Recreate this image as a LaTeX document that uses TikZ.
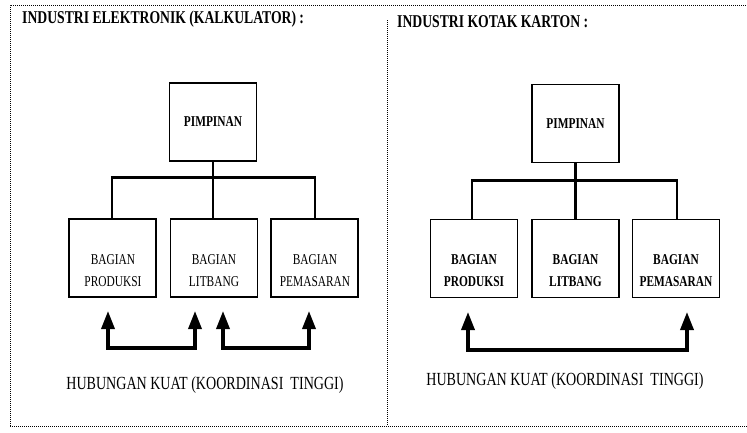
\documentclass[tikz,border=0pt]{standalone}
\usepackage{fontspec}
\setmainfont{Liberation Serif}
\newfontfamily\condfont[FakeStretch=0.76]{Liberation Serif}
\usetikzlibrary{arrows.meta}
\tikzset{
  frame/.style={line width=1pt, dash pattern=on 1pt off 1pt},
  box/.style={draw, line width=1.4pt, minimum width=87pt, minimum height=78pt, inner sep=0pt},
  boxb/.style={box, line width=1.9pt},
  topbox/.style={box, font=\condfont\bfseries\fontsize{15}{16}\selectfont},
  lbl/.style={inner sep=0pt, align=center, font=\condfont\fontsize{15}{22}\selectfont},
  lblb/.style={inner sep=0pt, align=center, font=\condfont\bfseries\fontsize{15}{22}\selectfont},
  tree/.style={line width=2.5pt},
  bar/.style={line width=3pt},
  link/.style={line width=3.5pt, -{Triangle[width=13pt,length=18pt]}},
  title/.style={anchor=west, inner sep=0pt, font=\condfont\bfseries\fontsize{18}{20}\selectfont},
  caption/.style={inner sep=0pt, font=\condfont\fontsize{18.5}{20}\selectfont}
}
\begin{document}
\begin{tikzpicture}[x=1pt, y=-1pt]
\useasboundingbox (0,0) rectangle (747,432);
% frame
\draw[frame] (10,426) -- (10,5) -- (747,5);
\draw[frame] (10,426) -- (747,426);
\draw[frame] (387,20) -- (387,426);
% titles
\node[title] (t1) at (22,19) {INDUSTRI ELEKTRONIK (KALKULATOR) :};
\node[title] (t2) at (397,22) {INDUSTRI KOTAK KARTON :};
% left tree
\node[topbox] (p1) at (213,122) {PIMPINAN};
\node[box] (a1) at (112.5,258) {};
\node[box] (b1) at (214,258) {};
\node[box] (c1) at (314.5,258) {};
\node[lbl] (a1t) at (113,271) {BAGIAN\\PRODUKSI};
\node[lbl] (b1t) at (214,271) {BAGIAN\\LITBANG};
\node[lbl] (c1t) at (315,271) {BAGIAN\\PEMASARAN};
\coordinate (j1) at (213,177);
\draw[tree] (p1.south) -- (j1);
\draw[tree] (a1.north -| 112,0) -- (112,177);
\draw[tree] (c1.north -| 315,0) -- (315,177);
\draw[bar] (110.75,177) -- (316.25,177);
\draw[tree] (j1) -- (j1 |- b1.north);
% left arrows
\coordinate (l1) at (108,348);
\coordinate (l2) at (195,348);
\coordinate (l3) at (223,348);
\coordinate (l4) at (309,348);
\draw[line width=3.5pt] (l1) -- (l2);
\draw[line width=3.5pt] (l3) -- (l4);
\coordinate (l1t) at (108,311);
\coordinate (l2t) at (195,311);
\coordinate (l3t) at (223,311);
\coordinate (l4t) at (309,311);
\draw[link] ([yshift=-1.75pt]l1) -- (l1t);
\draw[link] ([yshift=-1.75pt]l2) -- (l2t);
\draw[link] ([yshift=-1.75pt]l3) -- (l3t);
\draw[link] ([yshift=-1.75pt]l4) -- (l4t);
\node[caption] (k1) at (205,385) {HUBUNGAN KUAT (KOORDINASI\ \ TINGGI)};
% right tree
\node[topbox] (p2) at (575.5,123.5) {PIMPINAN};
\node[boxb] (a2) at (474,258.5) {};
\node[boxb] (b2) at (575.5,258.5) {};
\node[boxb] (c2) at (676,258.5) {};
\node[lblb] (a2t) at (474,271) {BAGIAN\\PRODUKSI};
\node[lblb] (b2t) at (575.5,271) {BAGIAN\\LITBANG};
\node[lblb] (c2t) at (676,271) {BAGIAN\\PEMASARAN};
\coordinate (j2) at (575.5,180);
\draw[tree] (p2.south) -- (j2);
\draw[tree] (a2.north -| 472,0) -- (472,180);
\draw[tree] (c2.north -| 677,0) -- (677,180);
\draw[bar] (470.75,180) -- (678.25,180);
\draw[tree] (j2) -- (j2 |- b2.north);
% right arrow
\coordinate (r1) at (468,350);
\coordinate (r2) at (687,350);
\draw[line width=3.5pt] (r1) -- (r2);
\coordinate (r1t) at (468,312);
\coordinate (r2t) at (687,312);
\draw[link] ([yshift=-1.75pt]r1) -- (r1t);
\draw[link] ([yshift=-1.75pt]r2) -- (r2t);
\node[caption] (k2) at (565,381) {HUBUNGAN KUAT (KOORDINASI\ \ TINGGI)};
\end{tikzpicture}
\end{document}
